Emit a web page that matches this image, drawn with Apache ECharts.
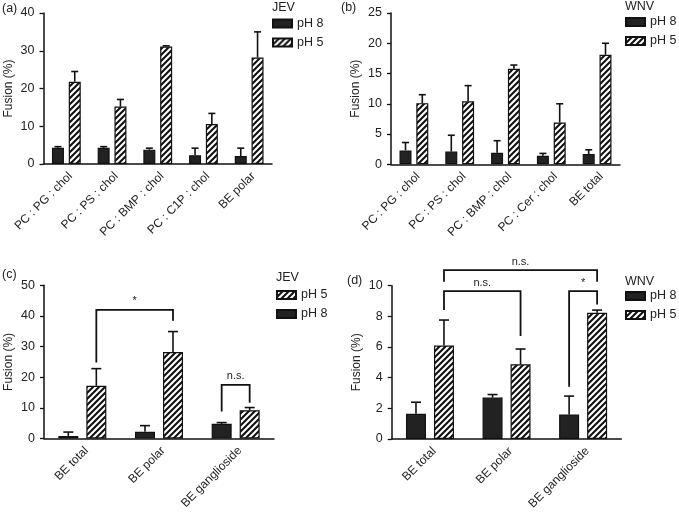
<!DOCTYPE html>
<html><head><meta charset="utf-8">
<script src="https://cdn.jsdelivr.net/npm/echarts@6/dist/echarts.min.js"></script>
<style>html,body{margin:0;padding:0;background:#fff}#c{width:679px;height:514px}</style>
</head><body><div id="c"></div>
<script>
// ---- data ----
const catsA = ['PC : PG : chol', 'PC : PS : chol', 'PC : BMP : chol', 'PC : C1P : chol', 'BE polar'];
const a_pH8 = [4.3, 4.3, 3.8, 2.3, 2.1];
const a_pH8_up = [4.6, 4.6, 4.2, 4.2, 4.2];
const a_pH5 = [21.8, 15.2, 31.1, 10.6, 28.2];
const a_pH5_up = [24.5, 17.1, 31.3, 13.4, 35.0];
const ticksA = [0, 10, 20, 30, 40];

const catsB = ['PC : PG : chol', 'PC : PS : chol', 'PC : BMP : chol', 'PC : Cer : chol', 'BE total'];
const b_pH8 = [2.3, 2.1, 1.9, 1.4, 1.7];
const b_pH8_up = [3.6, 4.8, 3.9, 1.8, 2.4];
const b_pH5 = [10.1, 10.4, 15.8, 6.9, 18.1];
const b_pH5_up = [11.5, 13.0, 16.4, 10.0, 20.0];
const ticksB = [0, 5, 10, 15, 20, 25];

const catsC = ['BE total', 'BE polar', 'BE ganglioside'];
const c_pH8 = [0.8, 2.2, 4.8];
const c_pH8_up = [2.1, 4.2, 5.2];
const c_pH5 = [17.2, 28.2, 9.2];
const c_pH5_up = [22.8, 34.9, 10.1];
const ticksC = [0, 10, 20, 30, 40, 50];
// brackets: [left category, left bar (0 = pH 8, 1 = pH 5), left end, right category, right bar, right end, bracket height, label]
const bracketsC = [
  [0, 1, 24.8, 1, 1, 38.4, 42.0, '*'],
  [2, 0, 8.8, 2, 1, 11.7, 17.5, 'n.s.']
];

const catsD = ['BE total', 'BE polar', 'BE ganglioside'];
const d_pH8 = [1.65, 2.7, 1.6];
const d_pH8_up = [2.4, 2.9, 2.8];
const d_pH5 = [6.1, 4.87, 8.24];
const d_pH5_up = [7.76, 5.87, 8.41];
const ticksD = [0, 2, 4, 6, 8, 10];
const bracketsD = [
  [0, 1, 10.26, 2, 1, 10.26, 11.02, 'n.s.'],
  [0, 1, 8.41, 1, 1, 6.72, 9.65, 'n.s.'],
  [2, 0, 3.41, 2, 1, 8.78, 9.65, '*']
];

// ---- styling ----
const FONT = '"Liberation Sans", Arial, Helvetica, sans-serif';
const INK = '#111';
const TXT = '#222';
const DARK = '#222';

function makeHatch() {
  const n = 6;
  const c = document.createElement('canvas'); c.width = n; c.height = n;
  const g = c.getContext('2d');
  g.fillStyle = '#fff'; g.fillRect(0, 0, n, n);
  g.strokeStyle = '#111'; g.lineWidth = 2.1; g.lineCap = 'square';
  g.beginPath();
  g.moveTo(-2, n + 2); g.lineTo(n + 2, -2);
  g.moveTo(-2, 2); g.lineTo(2, -2);
  g.moveTo(n - 2, n + 2); g.lineTo(n + 2, n - 2);
  g.stroke();
  return c;
}
const HATCH = { image: makeHatch(), repeat: 'repeat' };

const grids = [
  { left: 43.5, top: 13, width: 228.5, height: 151 },
  { left: 391, top: 13, width: 229, height: 151.3 },
  { left: 44, top: 285.3, width: 230, height: 153.2 },
  { left: 391.7, top: 285.7, width: 229.7, height: 153.3 }
];
const barW = [12, 12, 20, 20];
const GAPF = 0.4;
const capW = [7, 7, 10, 10];

function xAxis(i, cats) {
  return {
    gridIndex: i, type: 'category', data: cats,
    axisLine: { lineStyle: { color: INK, width: 1.5 } },
    axisTick: { alignWithLabel: true, length: 4, lineStyle: { color: INK, width: 1.3 } },
    axisLabel: { rotate: 45, interval: 0, fontSize: 12, color: TXT, fontFamily: FONT, margin: 6,
      align: 'right', verticalAlign: 'top' },
    splitLine: { show: false }
  };
}
function yAxis(i, ticks) {
  return {
    gridIndex: i, type: 'value', min: ticks[0], max: ticks[ticks.length - 1],
    interval: ticks[1] - ticks[0],
    axisLine: { show: true, lineStyle: { color: INK, width: 1.5 } },
    axisTick: { show: true, length: 4, lineStyle: { color: INK, width: 1.3 } },
    axisLabel: { fontSize: 12.5, color: TXT, fontFamily: FONT, margin: 9 },
    splitLine: { show: false },
    name: 'Fusion (%)', nameLocation: 'middle', nameGap: 29,
    nameTextStyle: { fontSize: 12, color: TXT, fontFamily: FONT }
  };
}
function bar(i, name, vals, hatched) {
  return {
    type: 'bar', name: name, xAxisIndex: i, yAxisIndex: i, data: vals,
    barWidth: barW[i], barGap: (GAPF * 100) + '%',
    itemStyle: { color: hatched ? HATCH : DARK, borderColor: INK, borderWidth: 1.2 },
    emphasis: { disabled: true }, z: 2
  };
}
function errBars(i, vals, ups, side) {
  const w = barW[i], off = side * (w + GAPF * w) / 2, cap = capW[i];
  return {
    type: 'custom', xAxisIndex: i, yAxisIndex: i, z: 4, clip: false, silent: true,
    data: vals.map((v, k) => [k, v, ups[k]]),
    renderItem(params, api) {
      const b = api.coord([api.value(0), api.value(1)]);
      const t = api.coord([api.value(0), api.value(2)]);
      const x = b[0] + off;
      const st = { stroke: INK, lineWidth: 1.6 };
      return { type: 'group', children: [
        { type: 'line', shape: { x1: x, y1: b[1], x2: x, y2: t[1] }, style: st },
        { type: 'line', shape: { x1: x - cap / 2, y1: t[1], x2: x + cap / 2, y2: t[1] }, style: st }
      ] };
    }
  };
}
function brackets(i, list) {
  const w = barW[i], half = (w + GAPF * w) / 2;
  return {
    type: 'custom', xAxisIndex: i, yAxisIndex: i, z: 5, clip: false, silent: true,
    data: list.map((b, k) => [b[0], b[6], k]),
    renderItem(params, api) {
      const b = list[api.value(2)];
      const xl = api.coord([b[0], 0])[0] + (b[1] ? half : -half);
      const xr = api.coord([b[3], 0])[0] + (b[4] ? half : -half);
      const yl = api.coord([b[0], b[2]])[1];
      const yr = api.coord([b[3], b[5]])[1];
      const yt = api.coord([b[0], b[6]])[1];
      return { type: 'group', children: [
        { type: 'polyline', shape: { points: [[xl, yl], [xl, yt], [xr, yt], [xr, yr]] },
          style: { stroke: INK, lineWidth: 1.8, fill: null } },
        { type: 'text', style: { text: b[7], x: (xl + xr) / 2, y: yt - 3, align: 'center', verticalAlign: 'bottom',
          fontSize: 11, fontFamily: FONT, fill: TXT } }
      ] };
    }
  };
}
function legend(left, top, order) {
  return {
    data: order, left: left, top: top, orient: 'vertical', icon: 'rect', padding: 0,
    itemWidth: 19, itemHeight: 8, itemGap: 6, selectedMode: false,
    textStyle: { fontSize: 12.5, color: TXT, fontFamily: FONT }
  };
}
function label(txt, x, y, size) {
  return { type: 'text', left: x, top: y, style: { text: txt, fontSize: size || 12.5, fontFamily: FONT, fill: TXT } };
}

const option = {
  animation: false,
  backgroundColor: '#fff',
  grid: grids,
  xAxis: [xAxis(0, catsA), xAxis(1, catsB), xAxis(2, catsC), xAxis(3, catsD)],
  yAxis: [yAxis(0, ticksA), yAxis(1, ticksB), yAxis(2, ticksC), yAxis(3, ticksD)],
  legend: [
    legend(272, 17, ['pH 8', 'pH 5']),
    legend(625, 15.5, ['pH 8', 'pH 5']),
    legend(276, 288.5, ['pH 5', 'pH 8']),
    legend(625, 289.5, ['pH 8', 'pH 5'])
  ],
  graphic: [
    label('(a)', 2, 2), label('JEV', 272, 1),
    label('(b)', 341, 1), label('WNV', 625, 0),
    label('(c)', 2, 268), label('JEV', 276, 271),
    label('(d)', 347, 274), label('WNV', 625, 275)
  ],
  series: [
    bar(0, 'pH 8', a_pH8, false), bar(0, 'pH 5', a_pH5, true),
    errBars(0, a_pH8, a_pH8_up, -1), errBars(0, a_pH5, a_pH5_up, 1),
    bar(1, 'pH 8', b_pH8, false), bar(1, 'pH 5', b_pH5, true),
    errBars(1, b_pH8, b_pH8_up, -1), errBars(1, b_pH5, b_pH5_up, 1),
    bar(2, 'pH 8', c_pH8, false), bar(2, 'pH 5', c_pH5, true),
    errBars(2, c_pH8, c_pH8_up, -1), errBars(2, c_pH5, c_pH5_up, 1),
    brackets(2, bracketsC),
    bar(3, 'pH 8', d_pH8, false), bar(3, 'pH 5', d_pH5, true),
    errBars(3, d_pH8, d_pH8_up, -1), errBars(3, d_pH5, d_pH5_up, 1),
    brackets(3, bracketsD)
  ]
};
const chart = echarts.init(document.getElementById('c'), null, { renderer: 'canvas' });
chart.setOption(option);
</script>
</body></html>
